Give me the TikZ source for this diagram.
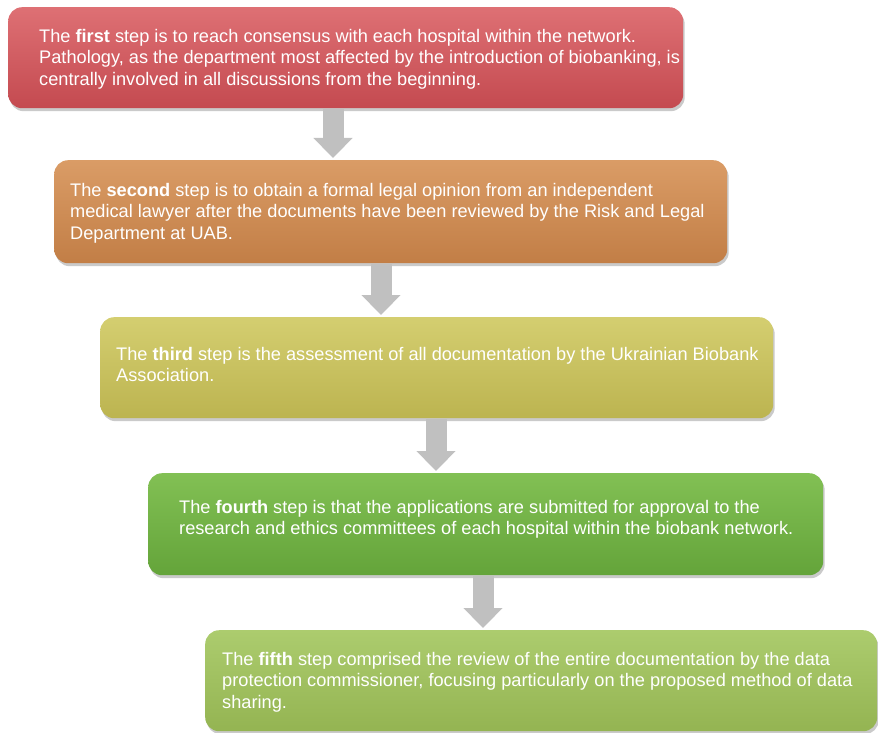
\documentclass[tikz,border=0pt]{standalone}
\usepackage{fontspec}
\setmainfont{Liberation Sans}
\usetikzlibrary{arrows.meta,shadows,calc}
\definecolor{redtop}{RGB}{222,112,116}
\definecolor{redbot}{RGB}{196,74,80}
\definecolor{orgtop}{RGB}{218,156,102}
\definecolor{orgbot}{RGB}{194,126,70}
\definecolor{yeltop}{RGB}{212,206,112}
\definecolor{yelbot}{RGB}{188,180,80}
\definecolor{grntop}{RGB}{130,192,84}
\definecolor{grnbot}{RGB}{100,164,58}
\definecolor{lgrtop}{RGB}{172,204,110}
\definecolor{lgrbot}{RGB}{148,180,82}
\definecolor{arrgray}{RGB}{192,192,192}
\tikzset{
  stepbox/.style={draw=none, rounded corners=14pt, anchor=north west, inner sep=0pt,
    drop shadow={shadow xshift=1.5pt, shadow yshift=-3pt, opacity=0.35, fill=black!60}},
  steptext/.style={anchor=north west, inner sep=0pt, align=left, text=white,
    font=\fontsize{18.2}{21.5}\selectfont},
  flowarrow/.style={draw=arrgray, line width=21pt, -{Triangle[width=38pt,length=20pt]}, shorten >=0pt}
}
\begin{document}
\begin{tikzpicture}[x=1pt,y=-1pt]
\useasboundingbox (0,0) rectangle (878,733);
\node[stepbox, top color=redtop, bottom color=redbot, minimum width=675pt, minimum height=101pt] (b1) at (8,7) {};
\node[stepbox, top color=orgtop, bottom color=orgbot, minimum width=673pt, minimum height=103pt] (b2) at (54,160) {};
\node[stepbox, top color=yeltop, bottom color=yelbot, minimum width=673pt, minimum height=101pt] (b3) at (100,317) {};
\node[stepbox, top color=grntop, bottom color=grnbot, minimum width=675pt, minimum height=102pt] (b4) at (148,473) {};
\node[stepbox, top color=lgrtop, bottom color=lgrbot, minimum width=672pt, minimum height=101pt] (b5) at (205,630) {};

\node[steptext] (t1) at ($(b1.north west)+(31,22)$) {The \textbf{first} step is to reach consensus with each hospital within the network.\\Pathology, as the department most affected by the introduction of biobanking, is\\centrally involved in all discussions from the beginning.};
\node[steptext] (t2) at ($(b2.north west)+(16,23)$) {The \textbf{second} step is to obtain a formal legal opinion from an independent\\medical lawyer after the documents have been reviewed by the Risk and Legal\\Department at UAB.};
\node[steptext] (t3) at ($(b3.north west)+(16,30)$) {The \textbf{third} step is the assessment of all documentation by the Ukrainian Biobank\\Association.};
\node[steptext] (t4) at ($(b4.north west)+(31,27)$) {The \textbf{fourth} step is that the applications are submitted for approval to the\\research and ethics committees of each hospital within the biobank network.};
\node[steptext] (t5) at ($(b5.north west)+(17,22)$) {The \textbf{fifth} step comprised the review of the entire documentation by the data\\protection commissioner, focusing particularly on the proposed method of data\\sharing.};

\coordinate (a1s) at (b1.south -| 333,0);
\coordinate (a1e) at (b2.north -| 333,0);
\coordinate (a2s) at (b2.south -| 381,0);
\coordinate (a2e) at (b3.north -| 381,0);
\coordinate (a3s) at (b3.south -| 436,0);
\coordinate (a3e) at (b4.north -| 436,0);
\coordinate (a4s) at (b4.south -| 483,0);
\coordinate (a4e) at (b5.north -| 483,0);
\draw[flowarrow] ($(a1s)+(0,1)$) -- ($(a1e)+(0,-2)$);
\draw[flowarrow] ($(a2s)+(0,1)$) -- ($(a2e)+(0,-2)$);
\draw[flowarrow] ($(a3s)+(0,1)$) -- ($(a3e)+(0,-2)$);
\draw[flowarrow] ($(a4s)+(0,1)$) -- ($(a4e)+(0,-2)$);
\end{tikzpicture}
\end{document}
